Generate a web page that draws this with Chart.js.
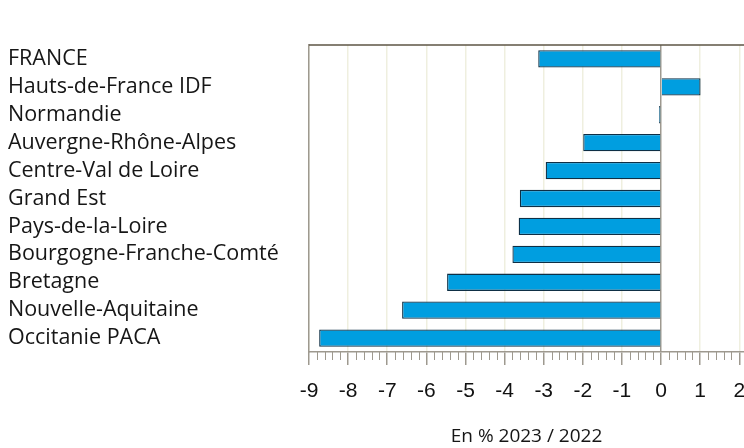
<!DOCTYPE html>
<html>
<head>
<meta charset="utf-8">
<script src="https://cdn.jsdelivr.net/npm/chart.js@4/dist/chart.umd.min.js"></script>
<style>
  html, body { margin: 0; padding: 0; background: #ffffff; }
  #wrap { width: 744px; height: 448px; }
</style>
</head>
<body>
<div id="wrap"><canvas id="c" width="744" height="448"></canvas></div>
<script>
const categories = [
  "FRANCE",
  "Hauts-de-France IDF",
  "Normandie",
  "Auvergne-Rhône-Alpes",
  "Centre-Val de Loire",
  "Grand Est",
  "Pays-de-la-Loire",
  "Bourgogne-Franche-Comté",
  "Bretagne",
  "Nouvelle-Aquitaine",
  "Occitanie PACA"
];
const values = [-3.14, 1.01, -0.05, -1.99, -2.95, -3.61, -3.64, -3.80, -5.47, -6.62, -8.74];
const xMin = -9;
const xMax = 2.12;
const xMajorStep = 1;
const xMinorStep = 0.2;
const xTitle = "En % 2023 / 2022";

const axisColor = '#9e998f';
const gridColor = '#efefdf';
const topColor = '#5c5545';

const frame = {
  id: 'frame',
  afterDatasetsDraw(chart) {
    const { ctx, chartArea } = chart;
    const xs = chart.scales.x;
    ctx.save();
    ctx.strokeStyle = topColor;
    ctx.lineWidth = 1.5;
    ctx.beginPath();
    ctx.moveTo(chartArea.left, chartArea.top);
    ctx.lineTo(chartArea.right, chartArea.top);
    ctx.stroke();
    ctx.strokeStyle = axisColor;
    ctx.lineWidth = 1;
    const n = Math.round((xMax - xMin) / xMinorStep);
    for (let i = 0; i <= n; i++) {
      const v = xMin + i * xMinorStep;
      if (Math.abs(v - Math.round(v)) < 1e-6) continue;
      const px = Math.round(xs.getPixelForValue(v)) + 0.5;
      ctx.beginPath();
      ctx.moveTo(px, chartArea.bottom);
      ctx.lineTo(px, chartArea.bottom + 8);
      ctx.stroke();
    }
    ctx.restore();
  }
};

new Chart(document.getElementById('c'), {
  type: 'bar',
  data: {
    labels: categories,
    datasets: [{
      data: values,
      backgroundColor: '#009ee0',
      borderColor: '#0e2f45',
      borderWidth: 1.3,
      barPercentage: 0.62,
      categoryPercentage: 1.0
    }]
  },
  options: {
    indexAxis: 'y',
    responsive: false,
    animation: false,
    layout: { padding: { left: 8, top: 45, right: 0, bottom: 0 } },
    plugins: { legend: { display: false }, tooltip: { enabled: false } },
    scales: {
      x: {
        min: xMin,
        max: xMax,
        ticks: {
          stepSize: xMajorStep,
          includeBounds: false,
          color: '#111111',
          font: { family: 'Liberation Sans', size: 21 },
          padding: 14,
          maxRotation: 0,
          autoSkip: false
        },
        afterBuildTicks(scale) {
          scale.ticks = scale.ticks.filter(t => Math.abs(t.value - Math.round(t.value)) < 1e-9);
        },
        afterFit(scale) {
          scale.height = 96;
          scale.paddingLeft = 0;
          scale.paddingRight = 0;
        },
        grid: {
          color: c => (c.tick && c.tick.value === 0) ? axisColor : gridColor,
          lineWidth: 1.5,
          tickColor: axisColor,
          tickLength: 13,
          drawTicks: true
        },
        border: { display: true, color: axisColor, width: 1.5 },
        title: {
          display: true,
          text: xTitle,
          color: '#161616',
          font: { family: 'Open Sans', size: 19 },
          padding: { top: 0, bottom: 0 }
        }
      },
      y: {
        offset: true,
        ticks: {
          crossAlign: 'far',
          color: '#161616',
          font: { family: 'Open Sans', size: 21.5 },
          autoSkip: false
        },
        afterFit(scale) {
          scale.width = 301;
        },
        grid: { display: false, drawTicks: false },
        border: { display: true, color: axisColor, width: 1.5 }
      }
    }
  },
  plugins: [frame]
});
</script>
</body>
</html>
